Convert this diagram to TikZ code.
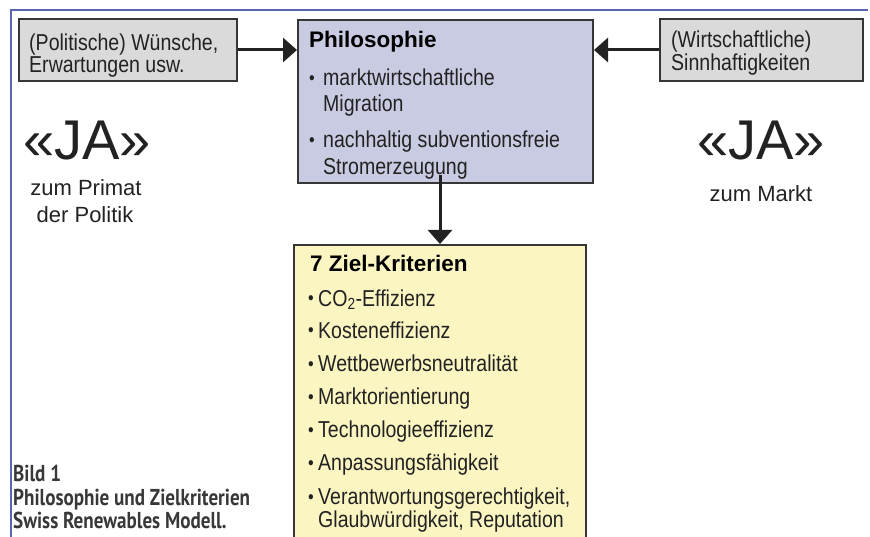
\documentclass[tikz,border=0pt]{standalone}
\usepackage{fontspec}
\setmainfont{Liberation Sans}
\newfontfamily\nrw{Liberation Sans}[FakeStretch=0.85]
\newfontfamily\capf{PT Sans}[FakeStretch=0.83]
\usetikzlibrary{arrows.meta}
\definecolor{framec}{HTML}{5A64B0}
\definecolor{borderc}{HTML}{363636}
\definecolor{grayfill}{HTML}{DADADA}
\definecolor{philfill}{HTML}{C9CBE2}
\definecolor{yelfill}{HTML}{FBF5C2}
\definecolor{txtc}{HTML}{222222}
\newcommand\bodyf{\nrw\fontsize{23}{26}\selectfont}
\newcommand\bulf{\nrw\fontsize{19}{26}\selectfont}
\newcommand\headf{\bfseries\fontsize{22.5}{26}\selectfont}
\newcommand\labf{\fontsize{22}{26}\selectfont}
\newcommand\jaf{\fontsize{56}{60}\selectfont}
\newcommand\capfont{\capf\bfseries\fontsize{23}{26}\selectfont}
\tikzset{
  box/.style={draw=borderc, line width=2pt, inner sep=0pt},
  txt/.style={inner sep=0pt, anchor=base west, text=txtc, font=\bodyf},
  head/.style={inner sep=0pt, anchor=base west, text=black, font=\headf},
  bul/.style={inner sep=0pt, anchor=base, text=txtc, font=\bulf},
  lab/.style={inner sep=0pt, anchor=base, text=txtc, font=\labf},
  ja/.style={inner sep=0pt, anchor=base, text=txtc, font=\jaf},
  captxt/.style={inner sep=0pt, anchor=base west, text=txtc!90, font=\capfont},
  arr/.style={draw=txtc, line width=3pt, -{Triangle[length=14pt,width=24pt]}}
}
\begin{document}
\begin{tikzpicture}[x=1pt,y=-1pt]
\useasboundingbox (0,0) rectangle (870,537);
\clip (0,0) rectangle (870,537);
\fill[white] (0,0) rectangle (870,537);
% frame
\draw[framec, line width=1.3pt] (11,545) -- (11,10) -- (868,10);
% boxes
\node[box, fill=grayfill, minimum width=218pt, minimum height=62pt] (lbox) at (128,50) {};
\node[box, fill=grayfill, minimum width=203pt, minimum height=62pt] (rbox) at (761.5,50) {};
\node[box, fill=philfill, minimum width=295pt, minimum height=163pt] (phil) at (445.5,101.5) {};
\node[box, fill=yelfill, minimum width=292pt, minimum height=310pt] (ybox) at (440,400) {};
% arrows
\draw[arr] (lbox.east) -- (lbox.east -| phil.west);
\draw[arr] (rbox.west) -- (rbox.west -| phil.east);
\coordinate (dstart) at ([yshift=9pt]phil.south -| ybox.north);
\draw[arr] (dstart) -- (ybox.north);
% left box text
\node[txt] (l1) at (29,51) {(Politische) Wünsche,};
\node[txt] (l2) at (29,73) {Erwartungen usw.};
% right box text
\node[txt] (r1) at (671,48) {(Wirtschaftliche)};
\node[txt] (r2) at (671,71) {Sinnhaftigkeiten};
% philosophy
\node[head] (ph) at (309,48) {Philosophie};
\node[bul] (pb1) at (312,85) {•};
\node[txt] (p1) at (323,86) {marktwirtschaftliche};
\node[txt] (p2) at (323,112) {Migration};
\node[bul] (pb2) at (312,147) {•};
\node[txt] (p3) at (323,148) {nachhaltig subventionsfreie};
\node[txt] (p4) at (323,175) {Stromerzeugung};
% criteria
\node[head] (yh) at (310,272) {7 Ziel-Kriterien};
\node[bul] (yb1) at (311,305) {•};
\node[txt] (y1) at (318,306) {CO\textsubscript{2}-Effizienz};
\node[bul] (yb2) at (311,337) {•};
\node[txt] (y2) at (318,338) {Kosteneffizienz};
\node[bul] (yb3) at (311,370) {•};
\node[txt] (y3) at (318,371) {Wettbewerbsneutralität};
\node[bul] (yb4) at (311,403) {•};
\node[txt] (y4) at (318,404) {Marktorientierung};
\node[bul] (yb5) at (311,436) {•};
\node[txt] (y5) at (318,437) {Technologieeffizienz};
\node[bul] (yb6) at (311,469) {•};
\node[txt] (y6) at (318,470) {Anpassungsfähigkeit};
\node[bul] (yb7) at (311,503) {•};
\node[txt] (y7) at (318,504) {Verantwortungsgerechtigkeit,};
\node[txt] (y8) at (318,527) {Glaubwürdigkeit, Reputation};
% JA labels
\node[ja] (jal) at (87,160) {«JA»};
\node[lab] (jal1) at (86,196) {zum Primat};
\node[lab] (jal2) at (85,223) {der Politik};
\node[ja] (jar) at (761,160) {«JA»};
\node[lab] (jar1) at (761,202) {zum Markt};
% caption
\node[captxt] (c1) at (13,481) {Bild 1};
\node[captxt] (c2) at (13,505) {Philosophie und Zielkriterien};
\node[captxt] (c3) at (13,528) {Swiss Renewables Modell.};
\end{tikzpicture}
\end{document}
